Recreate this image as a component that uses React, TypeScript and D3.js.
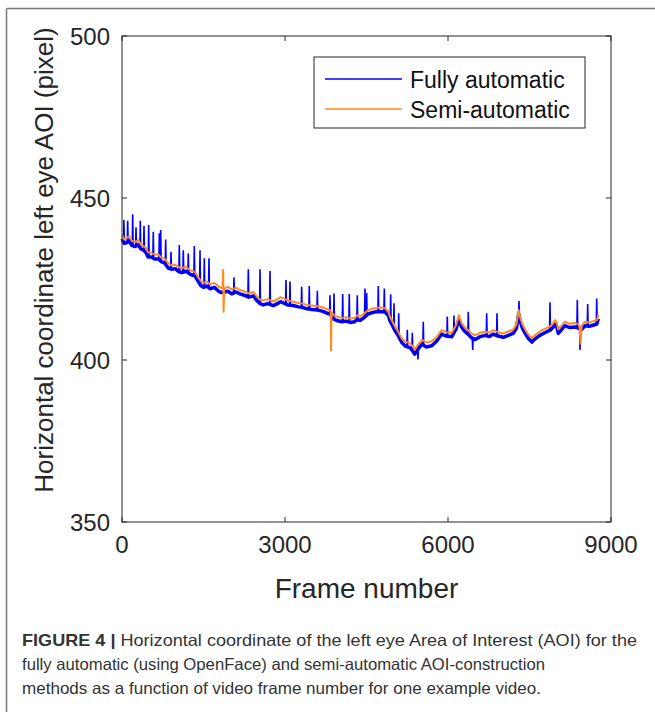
import React from "react";
import * as d3 from "d3";

// ---- data ----
const xTicks = [0, 3000, 6000, 9000];
const yTicks = [350, 400, 450, 500];

// semi-automatic (orange) trace
const semiFrames = [0, 40, 80, 130, 180, 240, 300, 350, 390, 440, 480, 540, 600, 670, 720, 780, 850, 920, 980, 1050, 1100, 1180, 1260, 1340, 1400, 1450, 1500, 1560, 1620, 1700, 1780, 1835, 1852, 1862, 1870, 1880, 1950, 2020, 2100, 2170, 2250, 2330, 2420, 2480, 2540, 2600, 2680, 2785, 2860, 2920, 2970, 3050, 3150, 3250, 3330, 3400, 3500, 3600, 3700, 3780, 3830, 3842, 3848, 3856, 3900, 3950, 4050, 4120, 4200, 4280, 4330, 4380, 4450, 4530, 4600, 4650, 4750, 4840, 4900, 4930, 4980, 5025, 5080, 5150, 5220, 5300, 5350, 5390, 5440, 5520, 5600, 5700, 5790, 5880, 5960, 6070, 6150, 6200, 6250, 6310, 6370, 6430, 6500, 6590, 6680, 6760, 6830, 6920, 7020, 7110, 7200, 7260, 7300, 7325, 7370, 7420, 7480, 7540, 7610, 7690, 7780, 7880, 7930, 7970, 8000, 8030, 8090, 8150, 8240, 8340, 8400, 8420, 8440, 8460, 8520, 8600, 8680, 8740, 8766];
const semiValues = [438.6, 437.2, 437.6, 438.2, 436.8, 436.4, 437.0, 435.6, 435.2, 434.6, 433.2, 433.0, 432.6, 432.6, 431.6, 431.4, 429.8, 429.2, 429.4, 428.6, 428.4, 428.8, 427.6, 427.2, 425.6, 424.4, 423.8, 424.2, 423.4, 423.8, 422.6, 422.2, 422.4, 427.8, 414.9, 422.0, 422.6, 421.8, 422.3, 421.6, 421.2, 420.6, 421.0, 419.6, 418.6, 418.4, 418.8, 418.0, 418.8, 419.4, 419.0, 418.4, 418.0, 417.6, 417.4, 417.0, 416.8, 416.6, 416.2, 415.6, 415.4, 415.0, 402.9, 414.8, 413.8, 413.4, 413.0, 413.2, 412.8, 413.0, 413.8, 413.4, 414.2, 415.4, 415.8, 416.0, 416.2, 416.0, 415.0, 413.4, 411.8, 410.3, 408.8, 406.6, 405.6, 405.2, 404.2, 403.2, 404.6, 406.2, 405.4, 405.8, 407.0, 409.2, 408.6, 408.4, 410.8, 413.8, 411.4, 410.0, 409.2, 408.2, 407.6, 408.4, 408.8, 408.4, 409.2, 408.6, 408.2, 408.8, 409.4, 411.0, 415.4, 413.4, 411.0, 409.4, 407.8, 406.8, 407.8, 408.8, 409.6, 410.4, 411.2, 412.3, 411.6, 409.4, 410.6, 411.8, 411.2, 411.4, 411.0, 410.2, 405.1, 410.5, 411.8, 411.6, 412.0, 412.3, 413.9];

// fully automatic (blue) trace baseline
const autoFrames = [0, 40, 80, 130, 180, 240, 300, 350, 390, 440, 480, 540, 600, 670, 720, 780, 850, 920, 980, 1050, 1100, 1180, 1260, 1340, 1400, 1450, 1500, 1560, 1620, 1700, 1780, 1835, 1950, 2020, 2100, 2170, 2250, 2330, 2420, 2480, 2540, 2600, 2680, 2785, 2860, 2920, 2970, 3050, 3150, 3250, 3330, 3400, 3500, 3600, 3700, 3780, 3830, 3900, 3950, 4050, 4120, 4200, 4280, 4330, 4380, 4450, 4530, 4600, 4650, 4750, 4840, 4900, 4930, 4980, 5025, 5080, 5150, 5220, 5300, 5350, 5390, 5440, 5520, 5600, 5700, 5790, 5880, 5960, 6070, 6150, 6200, 6250, 6310, 6370, 6430, 6500, 6590, 6680, 6760, 6830, 6920, 7020, 7110, 7200, 7260, 7300, 7325, 7370, 7420, 7480, 7540, 7610, 7690, 7780, 7880, 7930, 7970, 8000, 8030, 8090, 8150, 8240, 8340, 8400, 8460, 8520, 8600, 8680, 8740, 8766];
const autoValues = [437.4, 436.0, 436.2, 436.8, 435.4, 435.0, 435.6, 434.2, 434.0, 433.2, 431.8, 431.8, 431.2, 431.2, 430.4, 430.0, 428.4, 428.0, 428.2, 427.2, 427.0, 427.4, 426.4, 426.0, 424.4, 423.0, 422.4, 422.8, 422.0, 422.4, 421.2, 420.8, 421.2, 420.4, 421.0, 420.4, 420.0, 419.4, 419.8, 418.4, 417.4, 417.0, 417.4, 416.8, 417.4, 418.0, 417.6, 417.0, 416.8, 416.4, 416.2, 415.8, 415.6, 415.4, 415.0, 414.4, 414.2, 412.6, 412.2, 411.8, 412.0, 411.6, 411.8, 412.6, 412.2, 413.0, 414.2, 414.6, 414.8, 415.0, 414.8, 413.8, 412.2, 410.6, 409.0, 407.6, 405.4, 404.2, 403.8, 402.8, 401.8, 403.2, 404.9, 404.0, 404.4, 405.8, 408.0, 407.4, 407.2, 409.6, 412.6, 410.2, 408.8, 408.0, 406.9, 406.3, 407.2, 407.6, 407.2, 408.0, 407.4, 407.0, 407.6, 408.2, 409.8, 414.2, 412.2, 409.8, 408.2, 406.6, 405.6, 406.6, 407.6, 408.4, 409.2, 410.0, 411.0, 410.4, 408.2, 409.4, 410.6, 410.0, 410.2, 409.8, 409.4, 410.6, 410.4, 410.8, 411.1, 412.7];

// blue spikes (upward peaks)
const spikeFrames = [35, 105, 197, 258, 337, 405, 491, 576, 687, 712, 804, 902, 1055, 1128, 1220, 1331, 1436, 1515, 1601, 2061, 2325, 2540, 2724, 3018, 3092, 3307, 3447, 3595, 3828, 3902, 4062, 4183, 4330, 4472, 4503, 4717, 4828, 4945, 5006, 5093, 5251, 5343, 5545, 5987, 6110, 6373, 6712, 6902, 7307, 7877, 8380, 8571, 8737];
const spikeValues = [443.2, 443.0, 445.0, 441.0, 443.0, 441.4, 441.7, 439.6, 439.1, 440.1, 437.2, 433.4, 435.5, 433.9, 432.9, 435.2, 433.9, 431.4, 431.4, 425.5, 428.0, 428.0, 427.5, 424.7, 424.2, 422.6, 422.8, 421.4, 420.0, 420.5, 420.4, 420.4, 420.0, 422.1, 420.7, 422.8, 422.1, 420.3, 417.5, 414.4, 409.3, 408.4, 411.8, 413.4, 413.7, 414.9, 414.4, 414.4, 418.2, 417.8, 418.5, 417.3, 419.0];

// blue dips (downward)
const dipFrames = [3847, 5448, 6455, 7551, 8430];
const dipValues = [412.0, 400.2, 403.1, 405.1, 403.1];

const seriesNames = ["Fully automatic", "Semi-automatic"];
const seriesColors = ["#0000ff", "#ff8a1d"];

const captionBold = "FIGURE 4 |";
const captionLines = [
  " Horizontal coordinate of the left eye Area of Interest (AOI) for the",
  "fully automatic (using OpenFace) and semi-automatic AOI-construction",
  "methods as a function of video frame number for one example video.",
];
const captionWidths = [615, 523, 519];

const FONT = "'Liberation Sans', Arial, Helvetica, sans-serif";

export default function App() {
  const left = 122, right = 611, top = 36, bottom = 522;
  const x = d3.scaleLinear().domain([0, 9000]).range([left, right]);
  const y = d3.scaleLinear().domain([350, 500]).range([bottom, top]);

  const semi = semiFrames.map((f, i) => [f, semiValues[i]] as [number, number]);
  const auto = autoFrames.map((f, i) => [f, autoValues[i]] as [number, number]);
  const line = d3.line<[number, number]>().x((d) => x(d[0])).y((d) => y(d[1]));
  const baseAt = (f: number) => {
    const i = d3.bisector((d: [number, number]) => d[0]).left(auto, f);
    if (i <= 0) return auto[0][1];
    if (i >= auto.length) return auto[auto.length - 1][1];
    const a = auto[i - 1], b = auto[i];
    return a[1] + ((b[1] - a[1]) * (f - a[0])) / (b[0] - a[0]);
  };
  const spikes = spikeFrames.map((f, i) => line([[f - 8, baseAt(f)], [f, spikeValues[i]], [f + 8, baseAt(f)]]));
  const dips = dipFrames.map((f, i) => line([[f - 8, baseAt(f)], [f, dipValues[i]], [f + 8, baseAt(f)]]));

  const axisColor = "#262626";
  return (
    <svg width={655} height={712} style={{ position: "absolute", left: 0, top: 0, background: "#fff" }} fontFamily={FONT}>
      <rect x={0} y={0} width={655} height={712} fill="#fff" />
      {/* outer figure frame */}
      <line x1={6.5} y1={8.5} x2={655} y2={8.5} stroke="#777" strokeWidth={1.5} />
      <line x1={6.5} y1={8.5} x2={6.5} y2={712} stroke="#777" strokeWidth={1.5} />

      {/* data */}
      <path d={line(auto) || ""} fill="none" stroke={seriesColors[0]} strokeWidth={3.5} strokeLinejoin="round" />
      {spikes.map((d, i) => (
        <path key={"s" + i} d={d || ""} fill="none" stroke={seriesColors[0]} strokeWidth={1.6} />
      ))}
      {dips.map((d, i) => (
        <path key={"d" + i} d={d || ""} fill="none" stroke={seriesColors[0]} strokeWidth={1.6} />
      ))}
      <path d={line(semi) || ""} fill="none" stroke={seriesColors[1]} strokeWidth={2} strokeLinejoin="round" />

      {/* axes box */}
      <rect x={left} y={top} width={right - left} height={bottom - top} fill="none" stroke={axisColor} strokeWidth={1} />
      {xTicks.map((t) => (
        <g key={"xt" + t}>
          <line x1={x(t)} x2={x(t)} y1={bottom} y2={bottom - 5} stroke={axisColor} />
          <line x1={x(t)} x2={x(t)} y1={top} y2={top + 5} stroke={axisColor} />
          <text x={x(t)} y={553} textAnchor="middle" fontSize={24} fill={axisColor}>{t}</text>
        </g>
      ))}
      {yTicks.map((t) => (
        <g key={"yt" + t}>
          <line x1={left} x2={left + 5} y1={y(t)} y2={y(t)} stroke={axisColor} />
          <line x1={right} x2={right - 5} y1={y(t)} y2={y(t)} stroke={axisColor} />
          <text x={110} y={y(t) + 8.5} textAnchor="end" fontSize={24} fill={axisColor}>{t}</text>
        </g>
      ))}
      <text x={(left + right) / 2} y={598} textAnchor="middle" fontSize={28} fill={axisColor}>Frame number</text>
      <text transform={`translate(53, 260) rotate(-90)`} textAnchor="middle" fontSize={26} fill={axisColor}>
        Horizontal coordinate left eye AOI (pixel)
      </text>

      {/* legend */}
      <rect x={314} y={57} width={271} height={71} fill="#fff" stroke={axisColor} strokeWidth={1} />
      {seriesNames.map((n, i) => (
        <g key={n}>
          <line x1={325} x2={402} y1={79 + i * 30} y2={79 + i * 30} stroke={seriesColors[i]} strokeWidth={1.5} />
          <text x={410} y={88 + i * 30} fontSize={23} fill="#111">{n}</text>
        </g>
      ))}

      {/* caption */}
      {captionLines.map((l, i) => (
        <text key={"c" + i} x={22} y={646 + i * 24} fontSize={16.5} fill="#333" textLength={captionWidths[i]} lengthAdjust="spacingAndGlyphs">
          {i === 0 ? <tspan fontWeight="bold">{captionBold}</tspan> : null}
          {l}
        </text>
      ))}
    </svg>
  );
}
